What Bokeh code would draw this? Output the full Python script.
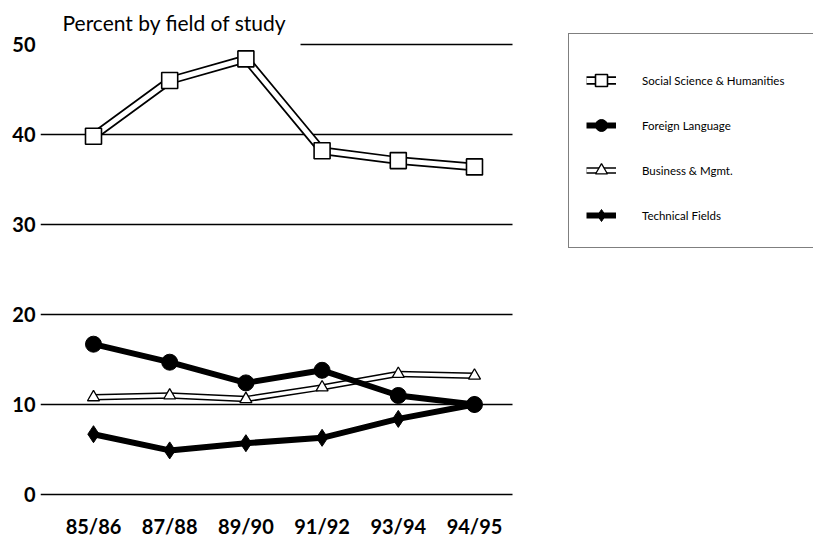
from bokeh.plotting import figure
from bokeh.models import (ColumnDataSource, Range1d, FixedTicker, Label,
                          Legend, LegendItem)
from bokeh.embed import file_html
from bokeh.resources import INLINE

# Academic years and percent of students by field of study
years = ["85/86", "87/88", "89/90", "91/92", "93/94", "94/95"]
social = [39.8, 46.0, 48.4, 38.2, 37.1, 36.4]
foreign = [16.7, 14.7, 12.4, 13.8, 11.0, 10.0]
business = [10.8, 11.0, 10.6, 11.9, 13.4, 13.2]
technical = [6.7, 4.9, 5.7, 6.3, 8.4, 10.0]
y_ticks = [0, 10, 20, 30, 40, 50]

FONT = "Lato"
xs = list(range(len(years)))
src = ColumnDataSource(dict(x=xs, social=social, foreign=foreign,
                            business=business, technical=technical))

# pixel scale: 76.2 px per year slot, 9 px per percent
X0, X1 = -0.6955, 9.449
p = figure(width=813, height=542, output_backend="svg", toolbar_location=None,
           x_range=Range1d(X0, X1), y_range=Range1d(-0.667, 54.889),
           min_border_left=40, min_border_right=0, min_border_top=0,
           min_border_bottom=42)
p.outline_line_color = None
p.background_fill_color = "white"
p.xgrid.visible = False
p.ygrid.visible = False

# horizontal rules at each tick (the top one stops short of the heading)
grid_x1 = 5.499
grid_x0 = [X0] * (len(y_ticks) - 1) + [2.717]
p.segment(x0=grid_x0, x1=[grid_x1] * len(y_ticks), y0=y_ticks, y1=y_ticks,
          line_color="black", line_width=1.6)

for ax in (p.xaxis, p.yaxis):
    ax.axis_line_color = None
    ax.major_tick_line_color = None
    ax.minor_tick_line_color = None
    ax.major_tick_out = 0
    ax.major_tick_in = 0
    ax.major_label_text_font = FONT
    ax.major_label_text_font_style = "bold"
    ax.major_label_text_font_size = "20px"
    ax.major_label_text_color = "black"

p.yaxis.ticker = FixedTicker(ticks=y_ticks)
p.yaxis.major_label_standoff = 5
p.xaxis.ticker = FixedTicker(ticks=xs)
p.xaxis.major_label_overrides = {i: y for i, y in enumerate(years)}
p.xaxis.major_label_standoff = 13

# Business & Mgmt: outlined white band with open triangles
b_out = p.line("x", "business", source=src, line_color="black", line_width=6.5)
b_in = p.line("x", "business", source=src, line_color="white", line_width=3.5)
b_mk = p.scatter("x", "business", source=src, marker="triangle", size=12,
                 fill_color="white", line_color="black", line_width=1.3)

# Foreign Language: heavy black line with filled circles
f_ln = p.line("x", "foreign", source=src, line_color="black", line_width=6)
f_mk = p.scatter("x", "foreign", source=src, marker="circle", size=16,
                 fill_color="black", line_color="black")

# Technical Fields: heavy black line with filled diamonds
t_ln = p.line("x", "technical", source=src, line_color="black", line_width=6)
t_mk = p.scatter("x", "technical", source=src, marker="diamond", size=17,
                 fill_color="black", line_color="black")

# Social Science & Humanities: outlined white band with open squares
s_out = p.line("x", "social", source=src, line_color="black", line_width=8.5)
s_in = p.line("x", "social", source=src, line_color="white", line_width=5)
s_mk = p.scatter("x", "social", source=src, marker="square", size=16,
                 fill_color="white", line_color="black", line_width=1.6)

p.add_layout(Label(x=-0.407, y=52.44, text="Percent by field of study",
                   text_font=FONT, text_font_size="21px",
                   text_baseline="middle", text_color="black"))

legend = Legend(items=[
    LegendItem(label="Social Science & Humanities", renderers=[s_out, s_in, s_mk]),
    LegendItem(label="Foreign Language", renderers=[f_ln, f_mk]),
    LegendItem(label="Business & Mgmt.", renderers=[b_out, b_in, b_mk]),
    LegendItem(label="Technical Fields", renderers=[t_ln, t_mk]),
], location=(528, 252), margin=0, padding=17, spacing=15,
    glyph_width=30, glyph_height=30, label_height=30, label_width=260,
    label_standoff=26, label_text_font=FONT, label_text_font_size="11.5px",
    label_text_color="black",
    title=" ", title_text_font_size="8px", title_standoff=5,
    border_line_color="black", border_line_width=1.5,
    background_fill_color="white", background_fill_alpha=1.0)
p.add_layout(legend)

open("out.html", "w").write(file_html(p, INLINE))
